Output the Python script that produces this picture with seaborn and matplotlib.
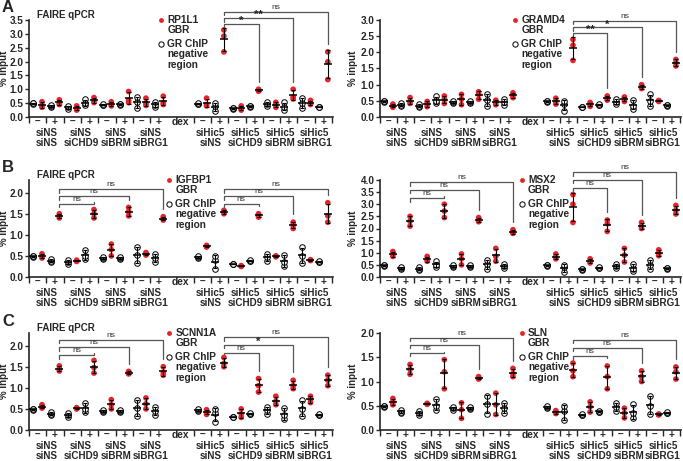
import numpy as np
import pandas as pd
import matplotlib
matplotlib.use("Agg")
import matplotlib.pyplot as plt
import seaborn as sns
from matplotlib.ticker import MultipleLocator, FormatStrFormatter, FixedLocator, NullFormatter

sns.set_style("ticks")
plt.rcParams["font.family"] = ["Liberation Sans", "DejaVu Sans"]
plt.rcParams["font.weight"] = "bold"

# ---------------- data ----------------
CONDITIONS = ["siNS\nsiNS", "siNS\nsiCHD9", "siNS\nsiBRM", "siNS\nsiBRG1",
              "siHic5\nsiNS", "siHic5\nsiCHD9", "siHic5\nsiBRM", "siHic5\nsiBRG1"]
DEX = ["\u2013", "+"]

# order: cond0 dex-, cond0 dex+, cond1 dex-, ... (3 replicates each, % input)
NEG_REGION = [[0.47, 0.49, 0.50], [0.35, 0.38, 0.42], [0.30, 0.35, 0.40], [0.42, 0.50, 0.64],
              [0.42, 0.45, 0.48], [0.43, 0.46, 0.48], [0.34, 0.53, 0.71], [0.36, 0.45, 0.55],
              [0.46, 0.48, 0.50], [0.20, 0.40, 0.50], [0.30, 0.31, 0.32], [0.37, 0.38, 0.40],
              [0.39, 0.47, 0.55], [0.25, 0.35, 0.53], [0.34, 0.50, 0.70], [0.35, 0.36, 0.37]]

RP1L1_GBR = [[0.35, 0.42, 0.55], [0.45, 0.50, 0.62], [0.25, 0.30, 0.40], [0.52, 0.58, 0.70],
             [0.40, 0.45, 0.55], [0.52, 0.60, 0.92], [0.42, 0.50, 0.68], [0.45, 0.52, 0.75],
             [0.40, 0.45, 0.68], [2.35, 2.92, 3.14], [0.25, 0.30, 0.40], [0.93, 0.97, 1.00],
             [0.35, 0.45, 0.53], [0.65, 0.72, 1.00], [0.45, 0.50, 0.60], [1.35, 1.99, 2.35]]
GRAMD4_GBR = [[0.30, 0.35, 0.40], [0.42, 0.48, 0.60], [0.32, 0.40, 0.48], [0.42, 0.55, 0.65],
              [0.38, 0.55, 0.70], [0.55, 0.70, 0.78], [0.38, 0.45, 0.52], [0.60, 0.68, 0.75],
              [0.40, 0.48, 0.58], [1.75, 2.22, 2.40], [0.33, 0.38, 0.45], [0.52, 0.58, 0.65],
              [0.48, 0.55, 0.62], [0.88, 0.93, 1.00], [0.48, 0.50, 0.51], [1.58, 1.68, 1.78]]
IGFBP1_GBR = [[0.45, 0.50, 0.55], [1.40, 1.45, 1.50], [0.37, 0.38, 0.40], [1.40, 1.50, 1.60],
              [0.50, 0.65, 0.78], [1.45, 1.55, 1.65], [0.52, 0.55, 0.58], [1.35, 1.38, 1.43],
              [0.71, 0.73, 0.75], [1.50, 1.53, 1.58], [0.25, 0.26, 0.27], [1.42, 1.46, 1.50],
              [0.48, 0.49, 0.50], [1.15, 1.23, 1.30], [0.39, 0.40, 0.41], [1.30, 1.45, 1.76]]
MSX2_GBR = [[0.85, 0.92, 1.05], [2.10, 2.30, 2.50], [0.65, 0.72, 0.85], [2.45, 2.72, 3.00],
            [0.50, 0.75, 0.95], [2.28, 2.35, 2.45], [0.65, 0.85, 1.18], [1.80, 1.85, 1.95],
            [0.75, 0.82, 0.95], [2.25, 3.00, 3.40], [0.58, 0.65, 0.75], [1.88, 2.20, 2.35],
            [0.62, 0.90, 1.18], [2.00, 2.10, 2.25], [0.88, 0.98, 1.12], [2.60, 2.75, 2.95]]
SCNN1A_GBR = [[0.52, 0.55, 0.60], [1.40, 1.45, 1.52], [0.50, 0.51, 0.53], [1.35, 1.48, 1.65],
              [0.50, 0.60, 0.72], [1.33, 1.36, 1.39], [0.50, 0.62, 0.76], [1.30, 1.37, 1.50],
              [0.37, 0.42, 0.48], [1.50, 1.58, 1.72], [0.30, 0.38, 0.50], [0.90, 1.05, 1.22],
              [0.60, 0.68, 0.80], [0.98, 1.05, 1.18], [0.65, 0.72, 0.80], [1.05, 1.18, 1.30]]
SLN_GBR = [[0.52, 0.58, 0.65], [1.15, 1.25, 1.35], [0.53, 0.54, 0.55], [0.85, 1.20, 1.45],
           [0.24, 0.42, 0.56], [1.05, 1.07, 1.10], [0.32, 0.52, 0.76], [1.10, 1.16, 1.27],
           [0.34, 0.37, 0.40], [1.10, 1.22, 1.38], [0.37, 0.48, 0.58], [0.85, 1.10, 1.32],
           [0.25, 0.35, 0.45], [1.00, 1.10, 1.22], [0.31, 0.32, 0.33], [1.05, 1.20, 1.30]]

# significance brackets: (start condition, target condition, bracket level, label)
RP1L1_SIG = [(4, 5, 3.35, "*"), (4, 6, 3.56, "**"), (4, 7, 3.80, "ns")]
GRAMD4_SIG = [(4, 5, 2.59, "**"), (4, 6, 2.77, "*"), (4, 7, 2.98, "ns")]
IGFBP1_SIG = [(0, 1, 1.73, "ns"), (0, 2, 1.91, "ns"), (0, 3, 2.08, "ns"),
              (4, 5, 1.73, "ns"), (4, 6, 1.91, "ns"), (4, 7, 2.08, "ns")]
MSX2_SIG = [(0, 1, 3.25, "ns"), (0, 2, 3.59, "ns"), (0, 3, 3.90, "ns"),
            (4, 5, 3.67, "ns"), (4, 6, 4.00, "ns"), (4, 7, 4.32, "ns")]
SCNN1A_SIG = [(0, 1, 1.77, "ns"), (0, 2, 1.96, "ns"), (0, 3, 2.14, "ns"),
              (4, 5, 1.83, "ns"), (4, 6, 2.02, "*"), (4, 7, 2.20, "ns")]
SLN_SIG = [(0, 1, 1.59, "ns"), (0, 2, 1.76, "ns"), (0, 3, 1.90, "ns"),
           (4, 5, 1.52, "ns"), (4, 6, 1.69, "ns"), (4, 7, 1.86, "ns")]

RED = "#e6252b"
W, H = 683, 461

# (letter, gene, gbr values, y max, brackets, left px, bottom px)
PANELS = [("A", "RP1L1", RP1L1_GBR, 3.5, RP1L1_SIG, 29, 117),
          (None, "GRAMD4", GRAMD4_GBR, 3.0, GRAMD4_SIG, 380, 117),
          ("B", "IGFBP1", IGFBP1_GBR, 2.3, IGFBP1_SIG, 29, 277),
          (None, "MSX2", MSX2_GBR, 4.0, MSX2_SIG, 380, 277),
          ("C", "SCNN1A", SCNN1A_GBR, 2.3, SCNN1A_SIG, 29, 430),
          (None, "SLN", SLN_GBR, 2.0, SLN_SIG, 380, 430)]


def xpos(cond, dex, region):
    return cond * 4 + (3 if cond >= 4 else 0) + dex * 2 + region


def build_frame(gbr):
    rows = []
    for i in range(16):
        c, d = divmod(i, 2)
        for v in NEG_REGION[i]:
            rows.append(dict(x=xpos(c, d, 0), region="neg", value=v))
        for v in gbr[i]:
            rows.append(dict(x=xpos(c, d, 1), region="GBR", value=v))
    return pd.DataFrame(rows)


fig = plt.figure(figsize=(W / 100, H / 100), dpi=100)

AX_W_L, AX_W_R, AX_H = 304, 301, 97

for letter, gene, gbr, ymax, sigs, lpx, bpx in PANELS:
    is_left = lpx < 100
    aw = AX_W_L if is_left else AX_W_R
    ax = fig.add_axes([lpx / W, 1 - bpx / H, aw / W, AX_H / H])
    df = build_frame(gbr)

    sns.scatterplot(data=df[df.region == "neg"], x="x", y="value", ax=ax, s=16,
                    color="white", edgecolor="black", linewidth=0.7, legend=False, zorder=3)
    sns.scatterplot(data=df[df.region == "GBR"], x="x", y="value", ax=ax, s=17,
                    color=RED, edgecolor="none", linewidth=0, legend=False, zorder=3)

    stats = df.groupby("x")["value"].agg(["mean", "std"]).reset_index()
    ax.errorbar(stats["x"], stats["mean"], yerr=stats["std"], fmt="none", ecolor="black",
                elinewidth=0.8, capsize=1.7, capthick=0.8, zorder=4)
    ax.scatter(stats["x"], stats["mean"], marker="_", s=36, color="black", linewidths=1.1, zorder=5)

    ax.set_xlim(-0.5, 34.6)
    ax.set_ylim(0, ymax)
    ax.set_xlabel("")
    ax.set_ylabel("% input", fontsize=7, fontweight="bold")
    ax.yaxis.set_label_coords((-20 if is_left else -22.5) / aw, 0.5)
    ax.yaxis.set_major_locator(MultipleLocator(0.5))
    ax.yaxis.set_major_formatter(FormatStrFormatter("%.1f"))
    for lab in ax.get_yticklabels():
        lab.set_fontweight("bold")
    ax.tick_params(axis="y", length=3, width=1.0, pad=1, labelsize=7.2)

    bounds = [c * 4 + (3 if c >= 4 else 0) + d * 2 - 0.5 for c in range(8) for d in range(2)]
    bounds += [34.5]
    ax.xaxis.set_major_locator(FixedLocator(bounds))
    ax.xaxis.set_major_formatter(NullFormatter())
    centers = [xpos(c, d, 0) + 0.5 for c in range(8) for d in range(2)] + [17]
    ax.xaxis.set_minor_locator(FixedLocator(centers))
    ax.set_xticklabels(DEX * 8 + ["dex"], minor=True)
    ax.tick_params(axis="x", which="major", length=4, width=1.0)
    ax.tick_params(axis="x", which="minor", length=0, pad=0.2, labelsize=7.3)
    for lab in ax.get_xticklabels(minor=True):
        lab.set_fontweight("bold")

    for c, cond in enumerate(CONDITIONS):
        ax.text(xpos(c, 0, 0) + 1.5, -0.215, cond, transform=ax.get_xaxis_transform(),
                ha="center", va="center", fontsize=7.1, fontweight="bold", linespacing=1.04)

    sns.despine(ax=ax)
    for sp in ("left", "bottom"):
        ax.spines[sp].set_linewidth(1.2)

    # significance brackets
    for s, t, lvl, lab in sigs:
        x0 = xpos(s, 1, 1)
        x1 = xpos(t, 1, 1)
        top_t = max(gbr[2 * t + 1])
        drop = 0.035 * ymax
        ax.plot([x0, x0, x1, x1], [lvl - drop, lvl, lvl, top_t + 0.08 * ymax],
                color="#555555", lw=0.9, clip_on=False, zorder=2)
        if lab == "ns":
            ax.text((x0 + x1) / 2, lvl + 0.01 * ymax, lab, ha="center", va="bottom",
                    fontsize=6, fontweight="normal", color="#333333", clip_on=False)
        else:
            ax.text((x0 + x1) / 2, lvl - 0.02 * ymax, lab, ha="center", va="bottom",
                    fontsize=8, fontweight="bold", color="#222222", clip_on=False)

    # legend
    lx = 0.435 if is_left else 0.45
    if gene in ("IGFBP1", "SCNN1A"):
        lx = 0.462
    if gene in ("MSX2", "SLN"):
        lx = 0.472
    ax.plot([lx], [1.0], "o", ms=3.5, color=RED, mec="none", transform=ax.transAxes,
            clip_on=False, zorder=6)
    ax.plot([lx], [1.0 - 24 / AX_H], "o", ms=3.8, mfc="white", mec="black", mew=0.7,
            transform=ax.transAxes, clip_on=False, zorder=6)
    tx = lx + 6 / aw
    ax.text(tx, 1.0 + 5 / AX_H, f"{gene}\nGBR", transform=ax.transAxes, ha="left",
            va="top", fontsize=7.3, fontweight="bold", linespacing=1.05)
    ax.text(tx, 1.0 - 19 / AX_H, "GR ChIP\nnegative\nregion", transform=ax.transAxes,
            ha="left", va="top", fontsize=7.3, fontweight="bold", linespacing=1.05)

    if letter is not None:
        ax.text(0.026, 1.0 + 5 / AX_H, "FAIRE qPCR", transform=ax.transAxes, ha="left",
                va="center", fontsize=7, fontweight="bold")
        fig.text(2 / W, 1 - (bpx - AX_H - 12) / H, letter, ha="left", va="center",
                 fontsize=12, fontweight="bold")

fig.savefig("out.png", dpi=100)
